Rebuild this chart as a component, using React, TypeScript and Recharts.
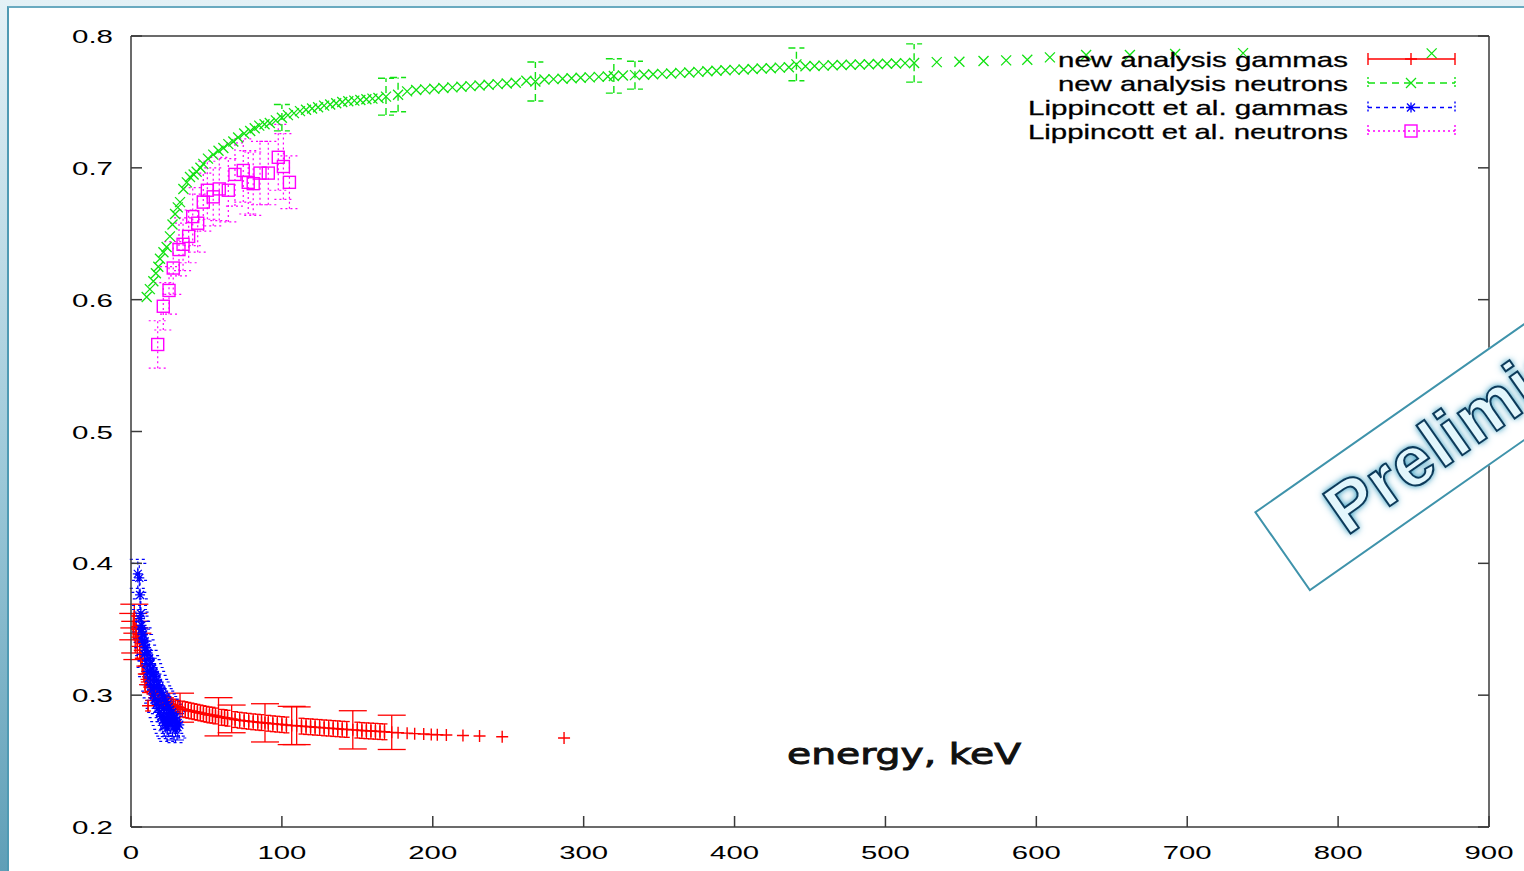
import React from "react";
import { ScatterChart, Scatter, XAxis, YAxis, ErrorBar, Legend } from "recharts";

// energy (keV), ratio, error
type Row = [number, number, number?];

const X_TICKS = [0, 100, 200, 300, 400, 500, 600, 700, 800, 900];
const Y_TICKS = [0.2, 0.3, 0.4, 0.5, 0.6, 0.7, 0.8];

const SERIES_NAMES = [
  "new analysis gammas",
  "new analysis neutrons",
  "Lippincott et al. gammas",
  "Lippincott et al. neutrons",
];

const NEW_GAMMAS: Row[] = [
  [1.5, 0.352, 0.01], [2.2, 0.36, 0.009], [2.8, 0.344, 0.012], [3.5, 0.35, 0.008],
  [4.2, 0.337, 0.01], [5, 0.346, 0.007], [5.8, 0.334, 0.007], [6.5, 0.328, 0.006],
  [7.5, 0.322, 0.006], [8.5, 0.316, 0.006], [9.3, 0.308, 0.006], [10.3, 0.312, 0.005],
  [11.3, 0.292, 0.004], [12.2, 0.306, 0.005], [13.3, 0.303, 0.005], [14.5, 0.301, 0.005],
  [16, 0.3, 0.005], [17.5, 0.298, 0.005], [19, 0.297, 0.005], [20.5, 0.296, 0.005],
  [22, 0.295, 0.005], [23.5, 0.294, 0.005], [25, 0.2935, 0.005], [26.5, 0.293, 0.005],
  [28, 0.292, 0.005], [29.5, 0.2915, 0.005], [31, 0.291, 0.005], [32.5, 0.2905, 0.011],
  [34, 0.2895, 0.006], [36, 0.289, 0.006], [38, 0.2885, 0.006], [40, 0.288, 0.006],
  [42, 0.2875, 0.006], [44, 0.287, 0.006], [46, 0.2865, 0.006], [48, 0.286, 0.006],
  [50, 0.2855, 0.006], [52, 0.285, 0.006], [54, 0.2848, 0.006], [56, 0.2842, 0.006],
  [58, 0.2836, 0.0145], [60, 0.2832, 0.006], [62, 0.283, 0.006], [64, 0.2825, 0.006],
  [66.7, 0.282, 0.0105], [69, 0.2815, 0.006], [72, 0.281, 0.006], [75, 0.2806, 0.006],
  [78, 0.2802, 0.006], [81, 0.2798, 0.006], [84, 0.2795, 0.006], [86.5, 0.2792, 0.006],
  [88.8, 0.279, 0.0145], [91, 0.2787, 0.006], [94, 0.2783, 0.006], [97, 0.278, 0.006],
  [100, 0.2777, 0.006], [103, 0.2774, 0.006], [106.5, 0.277, 0.0145], [109.8, 0.2768, 0.0143],
  [113, 0.2765, 0.006], [116, 0.2762, 0.006], [119, 0.276, 0.006], [122, 0.2757, 0.006],
  [125, 0.2755, 0.006], [128, 0.2752, 0.006], [131, 0.275, 0.006], [134, 0.2747, 0.006],
  [137, 0.2745, 0.006], [140, 0.2742, 0.006], [143, 0.274, 0.006], [147, 0.2737, 0.0145],
  [150, 0.2735, 0.006], [153, 0.2732, 0.006], [156, 0.273, 0.006], [159, 0.2728, 0.006],
  [162, 0.2726, 0.006], [165, 0.2724, 0.006], [168, 0.2722, 0.006], [172.8, 0.2718, 0.013],
  [177, 0.2715], [183, 0.2712], [188, 0.2708], [194, 0.2705], [199, 0.2702],
  [203, 0.27], [209, 0.2698], [220, 0.2694], [231, 0.269], [246, 0.2685], [287, 0.2675],
];

const NEW_NEUTRONS: Row[] = [
  [10.4, 0.602], [12.5, 0.608], [14.8, 0.614], [16.5, 0.62], [18.1, 0.625], [19.2, 0.631],
  [21.5, 0.636], [23.6, 0.64], [25.8, 0.648], [27.5, 0.657], [29.2, 0.665], [31, 0.67],
  [32.5, 0.674], [34.7, 0.684], [37, 0.689], [39.1, 0.693], [41.5, 0.695], [43.5, 0.697],
  [46, 0.7], [47.9, 0.703], [51, 0.707], [54.5, 0.71], [58, 0.713], [61.2, 0.715],
  [64.5, 0.718], [67.8, 0.72], [71, 0.723], [75, 0.726], [79, 0.728], [82, 0.73],
  [85, 0.732], [88.5, 0.733], [92, 0.734], [96, 0.736], [100, 0.738, 0.01], [104, 0.74],
  [108, 0.7415], [112, 0.743], [116, 0.744], [120, 0.745], [124, 0.746], [128, 0.7472],
  [132, 0.748], [136, 0.749], [140, 0.75], [144, 0.7505], [148, 0.751], [152, 0.7515],
  [156, 0.752], [160, 0.7525], [164, 0.753], [169, 0.754, 0.014], [177, 0.7555, 0.013],
  [183, 0.758], [189, 0.759], [195, 0.7595], [201, 0.76], [207, 0.7605], [213, 0.761],
  [219, 0.7615], [225, 0.762], [231, 0.7625], [237, 0.763], [243, 0.7635], [249, 0.764],
  [255, 0.7645], [262, 0.766], [268, 0.7655, 0.0148], [274, 0.767], [280, 0.7673],
  [286, 0.7676], [292, 0.768], [298, 0.7683], [304, 0.7686], [310, 0.769], [316, 0.7693],
  [320, 0.7697, 0.013], [326, 0.77], [334, 0.7703, 0.0106], [340, 0.7706], [346, 0.771],
  [352, 0.7713], [358, 0.7716], [364, 0.772], [370, 0.7723], [376, 0.7728], [382, 0.7732],
  [388, 0.7736], [394, 0.774], [400, 0.7743], [406, 0.7746], [412, 0.775], [418, 0.7753],
  [424, 0.7756], [430, 0.776], [436, 0.7763], [441, 0.7785, 0.0124], [447, 0.777],
  [453, 0.7772], [459, 0.7775], [465, 0.7778], [471, 0.778], [477, 0.7782], [483, 0.7784],
  [489, 0.7786], [495, 0.7788], [501, 0.779], [507, 0.7792], [513, 0.7794],
  [519, 0.7795, 0.0145], [534, 0.7802], [549, 0.7805], [565, 0.781], [580, 0.7815],
  [594, 0.782], [609, 0.7838], [633, 0.7856], [662, 0.7856], [692, 0.7863], [737, 0.787],
  [862, 0.7868],
];

const LIPP_GAMMAS: Row[] = [
  [4.5, 0.392, 0.011], [5.5, 0.389, 0.011], [6, 0.376, 0.011], [6.5, 0.362, 0.011],
  [7, 0.353, 0.01], [7.5, 0.346, 0.01], [8, 0.34, 0.01], [9, 0.331, 0.01], [10, 0.324, 0.01],
  [11, 0.318, 0.01], [12, 0.313, 0.01], [13, 0.308, 0.01], [14, 0.304, 0.01], [15, 0.3, 0.01],
  [16, 0.297, 0.01], [17, 0.293, 0.01], [18, 0.29, 0.01], [19, 0.287, 0.01], [20, 0.284, 0.01],
  [21, 0.281, 0.01], [22, 0.279, 0.01], [23, 0.277, 0.01], [24, 0.275, 0.01],
  [6, 0.358, 0.01], [7, 0.35, 0.01], [8, 0.346, 0.01], [9, 0.341, 0.01], [10, 0.336, 0.01],
  [11, 0.332, 0.01], [12, 0.328, 0.01], [13, 0.324, 0.01], [14, 0.32, 0.01], [15, 0.317, 0.01],
  [16, 0.314, 0.01], [17, 0.311, 0.01], [18, 0.308, 0.01], [19, 0.305, 0.01], [20, 0.302, 0.01],
  [21, 0.3, 0.01], [22, 0.297, 0.01], [23, 0.295, 0.01], [24, 0.293, 0.01], [25, 0.291, 0.01],
  [26, 0.289, 0.01], [27, 0.287, 0.01], [28, 0.285, 0.01], [29, 0.283, 0.01], [30, 0.281, 0.01],
  [31, 0.279, 0.01], [32, 0.2775, 0.01],
  [9.5, 0.336, 0.01], [12.5, 0.318, 0.01], [15.5, 0.306, 0.01], [18.5, 0.296, 0.01],
  [21.5, 0.29, 0.01], [24.5, 0.285, 0.01], [26, 0.281, 0.01], [27.5, 0.279, 0.01],
  [28.5, 0.276, 0.01], [29.5, 0.274, 0.01], [30.5, 0.276, 0.01], [25, 0.2785, 0.01],
  [23.5, 0.283, 0.01],
];

const LIPP_NEUTRONS: Row[] = [
  [17.7, 0.566, 0.018], [21.4, 0.595, 0.018], [25.2, 0.607, 0.018], [28, 0.624, 0.02],
  [31.8, 0.638, 0.02], [34.5, 0.642, 0.02], [38.2, 0.648, 0.02], [40.9, 0.663, 0.022],
  [44.2, 0.658, 0.022], [47.9, 0.674, 0.022], [50.6, 0.683, 0.022], [54.5, 0.678, 0.022],
  [58.5, 0.684, 0.024], [64.5, 0.683, 0.024], [68.9, 0.695, 0.024], [74.4, 0.698, 0.024],
  [77.7, 0.689, 0.024], [81, 0.688, 0.024], [85.5, 0.696, 0.024], [91, 0.696, 0.024],
  [97.6, 0.708, 0.025], [101, 0.701, 0.025], [105, 0.689, 0.02],
];

const RED = "#ff0000";
const GREEN = "#12e212";
const BLUE = "#0000ff";
const MAGENTA = "#ff00ff";
const AXIS = "#3a3a3a";
const FONT = "'Liberation Sans', Arial, sans-serif";

const toPts = (rows: Row[]) => rows.map(([e, v, err]) => ({ e, v, err }));

// red points: the large error bars get wide caps, the small ones only short ticks
const redBig = toPts(NEW_GAMMAS.filter((r) => (r[2] ?? 0) > 0.0085));
const redSmall = toPts(NEW_GAMMAS.filter((r) => !((r[2] ?? 0) > 0.0085)));

function PlusMark({ cx, cy, color, s = 6 }: any) {
  return <path d={`M${cx - s},${cy}h${2 * s}M${cx},${cy - s}v${2 * s}`} stroke={color} strokeWidth={1.4} fill="none" />;
}
function CrossMark({ cx, cy, color, s = 5 }: any) {
  return (
    <path
      d={`M${cx - s},${cy - s}L${cx + s},${cy + s}M${cx - s},${cy + s}L${cx + s},${cy - s}`}
      stroke={color}
      strokeWidth={1.3}
      fill="none"
    />
  );
}
function StarMark({ cx, cy, color, s = 5 }: any) {
  return (
    <path
      d={`M${cx - s},${cy}h${2 * s}M${cx},${cy - s}v${2 * s}M${cx - s * 0.8},${cy - s * 0.8}L${cx + s * 0.8},${cy + s * 0.8}M${cx - s * 0.8},${cy + s * 0.8}L${cx + s * 0.8},${cy - s * 0.8}`}
      stroke={color}
      strokeWidth={1.3}
      fill="none"
    />
  );
}
function SquareMark({ cx, cy, color, s = 6 }: any) {
  return <rect x={cx - s} y={cy - s} width={2 * s} height={2 * s} stroke={color} strokeWidth={1.4} fill="none" />;
}

// gnuplot style: ticks point inward on all four sides
const tickText = { fill: "#000", fontFamily: FONT, fontSize: 19 };

function BottomTick({ x, y, payload }: any) {
  const label = String(payload.value);
  return (
    <g>
      <line x1={x} x2={x} y1={y} y2={y - 11} stroke={AXIS} strokeWidth={1.5} />
      <text x={x} y={y + 32} textAnchor="middle" textLength={label.length * 16.3} lengthAdjust="spacingAndGlyphs" {...tickText}>
        {label}
      </text>
    </g>
  );
}
function TopTick({ x, y }: any) {
  return <line x1={x} x2={x} y1={y} y2={y + 11} stroke={AXIS} strokeWidth={1.5} />;
}
function LeftTick({ x, y, payload }: any) {
  return (
    <g>
      <line x1={x} x2={x + 11} y1={y} y2={y} stroke={AXIS} strokeWidth={1.5} />
      <text x={x - 18} y={y + 7} textAnchor="end" textLength={41} lengthAdjust="spacingAndGlyphs" {...tickText}>
        {Number(payload.value).toFixed(1)}
      </text>
    </g>
  );
}
function RightTick({ x, y }: any) {
  return <line x1={x} x2={x - 11} y1={y} y2={y} stroke={AXIS} strokeWidth={1.5} />;
}

function EnergyLabel(props: any) {
  const vb = props.viewBox || { x: 131, y: 827 };
  return (
    <text
      x={vb.x + 773}
      y={vb.y - 63}
      textAnchor="middle"
      textLength={234}
      lengthAdjust="spacingAndGlyphs"
      fontFamily="'DejaVu Sans', sans-serif"
      fontSize={28}
      fill="#111"
      stroke="#111"
      strokeWidth={0.9}
    >
      energy, keV
    </text>
  );
}

const LEGEND_ROWS = [
  { cy: 59, len: 290, color: RED, dash: undefined as string | undefined, Mark: PlusMark },
  { cy: 83, len: 290, color: GREEN, dash: "7 5", Mark: CrossMark },
  { cy: 107.5, len: 320, color: BLUE, dash: "4 4", Mark: StarMark },
  { cy: 131, len: 320, color: MAGENTA, dash: "2 3", Mark: SquareMark },
];

function LegendBox() {
  return (
    <svg width={1524} height={150} style={{ display: "block" }}>
      {LEGEND_ROWS.map((r, i) => (
        <g key={i}>
          <text
            x={1348}
            y={r.cy + 7.5}
            textAnchor="end"
            textLength={r.len}
            lengthAdjust="spacingAndGlyphs"
            fontFamily={FONT}
            fontSize={21}
            fill="#000"
            stroke="#000"
            strokeWidth={0.3}
          >
            {SERIES_NAMES[i]}
          </text>
          <line x1={1368} x2={1455} y1={r.cy} y2={r.cy} stroke={r.color} strokeWidth={1.4} strokeDasharray={r.dash} />
          <line x1={1368} x2={1368} y1={r.cy - 6} y2={r.cy + 6} stroke={r.color} strokeWidth={1.4} strokeDasharray={r.dash ? "2 2" : undefined} />
          <line x1={1455} x2={1455} y1={r.cy - 6} y2={r.cy + 6} stroke={r.color} strokeWidth={1.4} strokeDasharray={r.dash ? "2 2" : undefined} />
          <r.Mark cx={1411} cy={r.cy} color={r.color} />
        </g>
      ))}
    </svg>
  );
}

export default function App() {
  return (
    <div
      style={{
        position: "fixed",
        left: 0,
        top: 0,
        width: 1524,
        height: 871,
        overflow: "hidden",
        background: "linear-gradient(180deg, #e4f1f6 0%, #9cc8d8 55%, #5f9fb7 100%)",
      }}
    >
      <div
        style={{
          position: "absolute",
          left: 7,
          top: 6,
          right: 0,
          bottom: 0,
          background: "#fff",
          borderLeft: "2px solid #4f9ab3",
          borderTop: "2px solid #6aaac0",
        }}
      />
      <div style={{ position: "absolute", left: 0, top: 0 }}>
        <ScatterChart width={1524} height={871} margin={{ top: 35, right: 34, bottom: 14, left: 71 }}>
          <XAxis
            dataKey="e"
            type="number"
            domain={[0, 900]}
            ticks={X_TICKS}
            interval={0}
            allowDataOverflow
            tickSize={0}
            tickMargin={0}
            tick={BottomTick}
            axisLine={{ stroke: AXIS, strokeWidth: 1.5 }}
            height={30}
            label={{ content: EnergyLabel }}
          />
          <XAxis
            xAxisId="top"
            orientation="top"
            type="number"
            domain={[0, 900]}
            ticks={X_TICKS}
            interval={0}
            allowDataOverflow
            tickSize={0}
            tickMargin={0}
            tick={TopTick}
            axisLine={{ stroke: AXIS, strokeWidth: 1.5 }}
            height={1}
          />
          <YAxis
            dataKey="v"
            type="number"
            domain={[0.2, 0.8]}
            ticks={Y_TICKS}
            interval={0}
            allowDataOverflow
            tickSize={0}
            tickMargin={0}
            tick={LeftTick}
            axisLine={{ stroke: AXIS, strokeWidth: 1.5 }}
            width={60}
          />
          <YAxis
            yAxisId="right"
            orientation="right"
            type="number"
            domain={[0.2, 0.8]}
            ticks={Y_TICKS}
            interval={0}
            allowDataOverflow
            tickSize={0}
            tickMargin={0}
            tick={RightTick}
            axisLine={{ stroke: AXIS, strokeWidth: 1.5 }}
            width={1}
          />
          <Legend
            layout="vertical"
            align="center"
            verticalAlign="middle"
            wrapperStyle={{ top: 0, left: 0, width: 1524, height: 150 }}
            content={() => <LegendBox />}
          />
          <Scatter
            name={SERIES_NAMES[0]}
            data={redSmall}
            fill={RED}
            isAnimationActive={false}
            shape={(p: any) => <PlusMark cx={p.cx} cy={p.cy} color={RED} />}
          >
            <ErrorBar dataKey="err" direction="y" width={3} stroke={RED} strokeWidth={1.3} />
          </Scatter>
          <Scatter
            name={SERIES_NAMES[0] + " (large errors)"}
            legendType="none"
            data={redBig}
            fill={RED}
            isAnimationActive={false}
            shape={(p: any) => <PlusMark cx={p.cx} cy={p.cy} color={RED} />}
          >
            <ErrorBar dataKey="err" direction="y" width={14} stroke={RED} strokeWidth={1.3} />
          </Scatter>
          <Scatter
            name={SERIES_NAMES[1]}
            data={toPts(NEW_NEUTRONS)}
            fill={GREEN}
            isAnimationActive={false}
            shape={(p: any) => <CrossMark cx={p.cx} cy={p.cy} color={GREEN} />}
          >
            <ErrorBar dataKey="err" direction="y" width={8} stroke={GREEN} strokeWidth={1.4} strokeDasharray="7 4" />
          </Scatter>
          <Scatter
            name={SERIES_NAMES[2]}
            data={toPts(LIPP_GAMMAS)}
            fill={BLUE}
            isAnimationActive={false}
            shape={(p: any) => <StarMark cx={p.cx} cy={p.cy} color={BLUE} />}
          >
            <ErrorBar dataKey="err" direction="y" width={8} stroke={BLUE} strokeWidth={1.2} strokeDasharray="3 3" />
          </Scatter>
          <Scatter
            name={SERIES_NAMES[3]}
            data={toPts(LIPP_NEUTRONS)}
            fill={MAGENTA}
            isAnimationActive={false}
            shape={(p: any) => <SquareMark cx={p.cx} cy={p.cy} color={MAGENTA} />}
          >
            <ErrorBar dataKey="err" direction="y" width={9} stroke={MAGENTA} strokeWidth={1.2} strokeDasharray="2 3" />
          </Scatter>
        </ScatterChart>
      </div>
      <div
        style={{
          position: "absolute",
          left: 1254,
          top: 512,
          width: 560,
          height: 97,
          boxSizing: "border-box",
          border: "2px solid #3f93ab",
          background: "#fff",
          transform: "rotate(-35deg)",
          transformOrigin: "0 0",
          display: "flex",
          alignItems: "center",
          paddingLeft: 60,
        }}
      >
        <span
          style={{
            fontFamily: FONT,
            fontWeight: "bold",
            fontSize: 70,
            color: "#e2f6fc",
            WebkitTextStroke: "2px #0c3a5a",
            textShadow: "0 0 9px #4ba6c6, 0 0 5px #4ba6c6",
            letterSpacing: 1,
            whiteSpace: "nowrap",
          }}
        >
          Preliminary
        </span>
      </div>
    </div>
  );
}
